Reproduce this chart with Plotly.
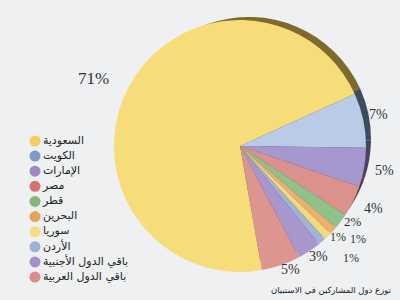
import math
import plotly.graph_objects as go

# ---- data ----
countries = ["السعودية", "الكويت", "الإمارات", "مصر", "قطر", "البحرين",
             "سوريا", "الأردن", "باقي الدول الأجنبية", "باقي الدول العربية"]
shares = [71, 7, 5, 4, 2, 1, 1, 1, 3, 5]
title_text = "توزع دول المشاركين في الاستبيان"

# ---- styles ----
slice_colors = ["#f6dd7a", "#b9cbe6", "#a797cf", "#db918c", "#8fc189",
                "#ebb06e", "#f4d97c", "#a1b4d7", "#a897cd", "#dd958f"]
legend_colors = ["#f2cf62", "#7f9bc7", "#9f87c6", "#d47472", "#85b77d",
                 "#e6a35a", "#f5dc86", "#9db0d6", "#a58fcb", "#dc8c88"]
shadow_colors = ["#7d6a2c", "#3e4b5f", "#4a4060", "#5a3c3a", "#3c5438",
                 "#6a5030", "#6e6232", "#46506a", "#4a4060", "#5a3c3a"]
label_sizes = [17, 14, 14, 14, 13, 12, 12, 12, 14, 14]
label_radius = [1.28, 1.13, 1.16, 1.17, 1.08, 1.19, 1.06, 1.25, 1.08, 1.06]
label_nudge_deg = [-3, -1, 0, -1, -3, -4, -3, -4, -2, -3]

W, H = 400, 300
ROT = 170
CX, CY, R = 240, 146, 126          # main pie centre / radius in pixels
SX, SY, SR = 249, 139, 122          # shadow disc

def dom(cx, cy, r):
    return dict(x=[(cx - r) / W, (cx + r) / W], y=[1 - (cy + r) / H, 1 - (cy - r) / H])

fig = go.Figure()

# shadow disc (3D edge)
fig.add_trace(go.Pie(
    values=shares, labels=countries, sort=False, direction="clockwise",
    rotation=ROT, marker=dict(colors=shadow_colors, line=dict(width=0)),
    textinfo="none", hoverinfo="skip", showlegend=False, domain=dom(SX, SY, SR),
))

# main pie
fig.add_trace(go.Pie(
    values=shares, labels=countries, sort=False, direction="clockwise",
    rotation=ROT, marker=dict(colors=slice_colors, line=dict(width=0)),
    textinfo="none", showlegend=False, domain=dom(CX, CY, R),
))

# percentage labels placed at each slice's mid-angle
total = sum(shares)
acc = 0
for v, rf, nd, fs in zip(shares, label_radius, label_nudge_deg, label_sizes):
    mid = ROT + 360 * (acc + v / 2) / total + nd
    acc += v
    a = math.radians(mid)
    px = CX + rf * R * math.sin(a)
    py = CY - rf * R * math.cos(a)
    fig.add_annotation(
        text=f"{v}%", xref="paper", yref="paper", x=px / W, y=1 - py / H,
        xanchor="center", yanchor="middle", showarrow=False,
        font=dict(family="Liberation Serif", size=fs, color="#333333"),
    )

# legend drawn as markers + text on a hidden axis
fig.add_trace(go.Scatter(
    x=[0] * len(countries), y=list(range(len(countries))),
    mode="markers+text", text=countries, textposition="middle right",
    textfont=dict(family="DejaVu Sans", size=11, color="#222222"),
    marker=dict(size=11, color=legend_colors, line=dict(width=0)),
    hoverinfo="skip", showlegend=False, cliponaxis=False,
))

fig.add_annotation(
    text=title_text, xref="paper", yref="paper", x=0.985, y=1 - 290 / H,
    xanchor="right", yanchor="middle", showarrow=False,
    font=dict(family="DejaVu Sans", size=8.5, color="#222222"),
)

fig.update_layout(
    width=W, height=H, margin=dict(l=0, r=0, t=0, b=0),
    paper_bgcolor="#eef0f1", plot_bgcolor="rgba(0,0,0,0)",
    xaxis=dict(domain=[0, 0.3], range=[-35, 85], visible=False, fixedrange=True),
    yaxis=dict(domain=[0, 1], range=[10.52, -9.33], visible=False, fixedrange=True),
)

fig.write_html("out.html")
